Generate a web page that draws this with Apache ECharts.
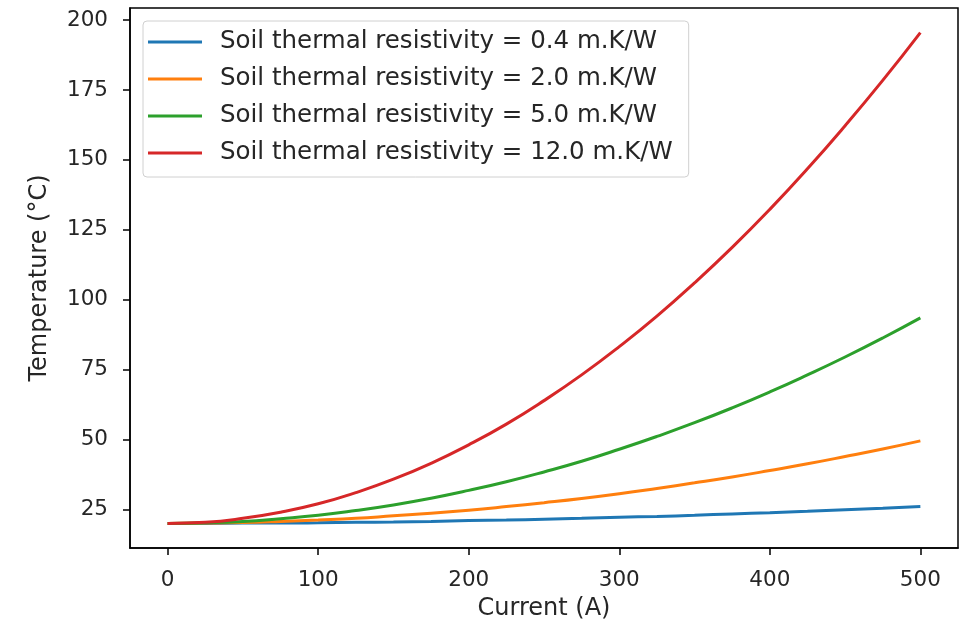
<!DOCTYPE html>
<html>
<head>
<meta charset="utf-8">
<script src="https://cdn.jsdelivr.net/npm/echarts@6/dist/echarts.min.js"></script>
<style>
  html, body { margin: 0; padding: 0; background: #fff; }
  #chart { width: 963px; height: 626px; }
</style>
</head>
<body>
<div id="chart"></div>
<script>
// current (A), read every 25 A
const current = [0, 25, 50, 75, 100, 125, 150, 175, 200, 225, 250, 275, 300, 325, 350, 375, 400, 425, 450, 475, 500];

// temperature (°C) for each soil thermal resistivity
const temp04 = [20, 20.0, 20.1, 20.1, 20.2, 20.4, 20.5, 20.7, 21.0, 21.2, 21.5, 21.8, 22.2, 22.5, 22.9, 23.4, 23.8, 24.3, 24.9, 25.4, 26.0];
const temp20 = [20, 20.1, 20.3, 20.7, 21.2, 21.8, 22.7, 23.6, 24.7, 26.0, 27.4, 28.9, 30.6, 32.5, 34.5, 36.6, 38.9, 41.3, 43.9, 46.6, 49.5];
const temp50 = [20, 20.2, 20.7, 21.7, 22.9, 24.6, 26.6, 29.0, 31.8, 34.9, 38.4, 42.2, 46.5, 51.1, 56.0, 61.3, 67.0, 73.1, 79.5, 86.3, 93.5];
const temp120 = [20, 20.4, 21.8, 24.0, 27.0, 31.0, 35.8, 41.5, 48.1, 55.5, 63.9, 73.1, 83.2, 94.1, 106.0, 118.7, 132.3, 146.8, 162.2, 178.4, 195.5];

const seriesNames = [
  "Soil thermal resistivity = 0.4 m.K/W",
  "Soil thermal resistivity = 2.0 m.K/W",
  "Soil thermal resistivity = 5.0 m.K/W",
  "Soil thermal resistivity = 12.0 m.K/W",
];
const xTicks = [0, 100, 200, 300, 400, 500];
const yTicks = [25, 50, 75, 100, 125, 150, 175, 200];

const colors = ["#1f77b4", "#ff7f0e", "#2ca02c", "#d62728"];
const font = "DejaVu Sans";
const textColor = "#262626";

const chart = echarts.init(document.getElementById("chart"));

const allTemps = [temp04, temp20, temp50, temp120];
const series = allTemps.map((arr, i) => ({
  name: seriesNames[i],
  type: "line",
  data: current.map((c, j) => [c, arr[j]]),
  smooth: true,
  showSymbol: false,
  lineStyle: { width: 3, color: colors[i] },
  itemStyle: { color: colors[i] },
}));

const option = {
  animation: false,
  color: colors,
  grid: {
    left: 130,
    right: 5,
    top: 8,
    bottom: 78,
    show: true,
    borderColor: "#000",
    borderWidth: 1.5,
    backgroundColor: "#fff",
  },
  legend: {
    orient: "vertical",
    left: 143,
    top: 21,
    padding: [7, 16, 10, 5],
    itemWidth: 54,
    itemHeight: 3,
    itemGap: 9,
    icon: "rect",
    borderColor: "#d0d0d0",
    borderWidth: 1,
    borderRadius: 4,
    backgroundColor: "#fff",
    textStyle: { fontFamily: font, fontSize: 24.5, color: textColor, padding: [0, 0, 0, 13], lineHeight: 28 },
    data: seriesNames,
  },
  xAxis: {
    type: "value",
    min: -25,
    max: 525,
    name: "Current (A)",
    nameLocation: "middle",
    nameGap: 49,
    nameTextStyle: { fontFamily: font, fontSize: 24, color: textColor },
    splitLine: { show: false },
    axisLine: { show: true, onZero: false, lineStyle: { color: "#000", width: 1.5 } },
    axisTick: { show: true, length: 7, lineStyle: { color: "#000", width: 1.5 }, customValues: xTicks },
    axisLabel: { fontFamily: font, fontSize: 21.5, color: textColor, margin: 21, customValues: xTicks },
  },
  yAxis: {
    type: "value",
    min: 11.2,
    max: 204.3,
    name: "Temperature (°C)",
    nameLocation: "middle",
    nameGap: 78,
    nameRotate: 90,
    nameTextStyle: { fontFamily: font, fontSize: 24, color: textColor },
    splitLine: { show: false },
    axisLine: { show: true, onZero: false, lineStyle: { color: "#000", width: 1.5 } },
    axisTick: { show: true, length: 7, lineStyle: { color: "#000", width: 1.5 }, customValues: yTicks },
    axisLabel: { fontFamily: font, fontSize: 21.5, color: textColor, margin: 22, customValues: yTicks },
  },
  series: series,
};

chart.setOption(option);
</script>
</body>
</html>
